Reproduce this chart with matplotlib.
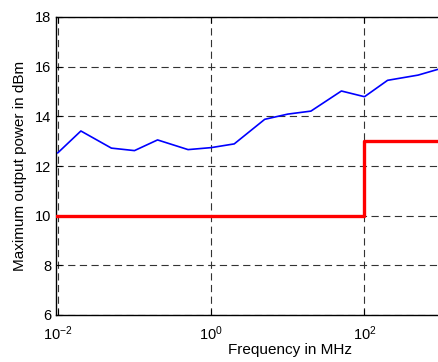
import numpy as np
import matplotlib
matplotlib.use('Agg')
import matplotlib.pyplot as plt
from matplotlib.ticker import NullLocator

# measured output power (blue) and limit (red)
freq_mhz = [0.01, 0.02, 0.05, 0.1, 0.2, 0.5, 1, 2, 5, 10, 20, 50, 100, 200, 500, 1000]
power_dbm = [12.53, 13.41, 12.72, 12.62, 13.05, 12.66, 12.74, 12.89, 13.88, 14.09,
             14.21, 15.02, 14.79, 15.45, 15.66, 15.93]

limit_freq = [0.009, 100, 100, 10000]
limit_dbm = [10, 10, 13, 13]

xticks = [1e-2, 1e0, 1e2]
xticklabels = [r'$10^{-2}$', r'$10^{0}$', r'$10^{2}$']
yticks = [6, 8, 10, 12, 14, 16, 18]


def main():
    plt.rcParams['font.family'] = ['Liberation Sans', 'DejaVu Sans']
    plt.rcParams['mathtext.default'] = 'regular'
    plt.rcParams['font.size'] = 10

    fig = plt.figure(figsize=(4.39, 3.62), dpi=100)
    # axes run past the right edge of the picture, as in the cropped original
    ax = fig.add_axes([55.5 / 439, 47 / 362, 470 / 439, 298 / 362])

    ax.plot(freq_mhz, power_dbm, color='#0000ff', linewidth=1.2, zorder=3)
    ax.plot(limit_freq, limit_dbm, color='#ff0000', linewidth=2.4, zorder=3)

    ax.set_xscale('log')
    ax.set_xlim(10 ** -2.03, 10 ** 4.1)
    ax.set_ylim(6, 18)
    ax.set_xticks(xticks)
    ax.set_xticklabels(xticklabels)
    ax.xaxis.set_minor_locator(NullLocator())
    ax.set_yticks(yticks)

    ax.grid(True, color='#333333', linestyle=(0, (6.5, 4)), linewidth=0.8)
    ax.tick_params(direction='in', top=True, right=True, length=4, width=0.8,
                   labelsize=10.5, colors='black')
    ax.tick_params(axis='x', pad=7)
    ax.tick_params(axis='y', pad=3)
    for s in ax.spines.values():
        s.set_linewidth(1.0)

    ax.set_xlabel('Frequency in MHz', fontsize=11, labelpad=0)
    ax.set_ylabel('Maximum output power in dBm', fontsize=11, labelpad=6)

    fig.savefig('out.png', dpi=100)


if __name__ == '__main__':
    main()
